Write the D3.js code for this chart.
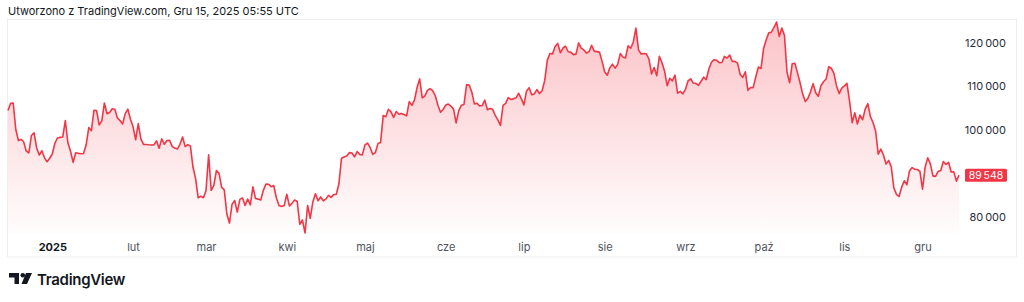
<!DOCTYPE html>
<html>
<head>
<meta charset="utf-8">
<script src="https://cdn.jsdelivr.net/npm/d3@7"></script>
<style>
  html, body { margin: 0; padding: 0; background: #fff; }
  svg { display: block; font-family: Inter, "Noto Sans", sans-serif; }
</style>
</head>
<body>
<div id="chart"></div>
<script>
// daily closes, 15 Dec 2024 .. 15 Dec 2025
var dec2024 = [104400,106058,106140,100041,97490,97755,97224,95104,94686,98676,99300,95795,94164,95163,93530,92643,93429];
var jan = [94419,96886,98107,98236,98314,102078,96922,95043,92484,94701,94566,94488,94516,96534,100504,99756,104462,104408,101089,102016,106146,103653,103960,104819,104714,102682,102087,101332,103703,104735,102405];
var feb = [100655,97688,101406,97871,96616,96593,96529,96482,96500,97437,95747,97885,96623,97508,97581,96175,95773,95539,96635,98333,96125,96577,96273,91418,88736,84347,84704,84373];
var mar = [86031,94248,86065,87222,90623,89961,86742,86154,80601,78532,82862,83722,81066,83969,84343,82579,84075,82718,86854,84167,84043,83832,86054,87499,87471,86900,87177,84353,82597,82334,82548];
var apr = [85169,82485,83102,83844,83504,78214,79235,76272,82573,79626,83404,85287,83684,84542,83669,84033,84895,84450,85063,85174,87518,93441,93699,93944,94720,94646,93754,94978,94284,94207];
var may = [96492,96910,95891,94315,94748,96802,97032,103241,102971,104696,104107,102812,104169,103539,103744,103489,103191,106446,105606,106792,109678,111673,107288,107791,109035,109440,108994,107802,105642,103999,104638];
var jun = [105652,105882,105432,104731,101575,104390,105615,105794,110295,110257,108686,105929,106090,105472,105552,106797,104601,104884,104684,103310,102257,100987,105578,106045,107361,106960,107088,107327,108386,107135];
var jul = [105698,108859,109647,108034,108231,109232,108300,108950,111327,115988,117516,117436,119117,119841,117678,118780,119177,117924,117840,117265,117380,119954,118756,118340,117614,117919,119416,118062,117950,117840,115758];
var aug = [113320,112527,114218,115071,114141,115028,117496,116688,116500,119306,118731,120172,123344,118360,117398,117491,117453,116252,112831,114274,112419,116874,115374,113458,110124,111802,111222,112545,108410,108808,108236];
var sep = [109250,111200,111705,110730,110659,110187,111144,112071,111530,113955,115507,116101,115950,115408,115444,116843,116468,117137,115688,115721,115306,112749,112014,113328,109049,109712,109681,112123,114400,114056];
var oct = [118648,120681,122266,122425,123514,124753,121451,123354,121706,113214,110807,115169,115271,113118,110783,108186,106468,107198,108666,110588,108476,107688,110069,111033,111641,114472,114120,112956,110055,108305,109556];
var nov = [110064,110639,106547,101591,103892,101301,103372,102282,104719,105996,102997,101663,99697,94397,95549,94177,92093,92949,91465,86631,85090,84648,86805,88270,87341,90518,91285,90919,90851,90394];
var dec = [86321,91350,93527,92141,89387,89272,90405,90640,92691,92020,92511,90270,90298,88175,89548];

var monthLabels = ["2025","lut","mar","kwi","maj","cze","lip","sie","wrz","paź","lis","gru"];
var priceTicks = [80000, 90000, 100000, 110000, 120000];

var startDate = new Date(2024, 11, 15);
var closes = [].concat(dec2024, jan, feb, mar, apr, may, jun, jul, aug, sep, oct, nov, dec);
var data = closes.map(function (v, i) {
    return { date: d3.timeDay.offset(startDate, i), value: v };
});
var last = data[data.length - 1];

var width = 1024,
    height = 302,
    red = "#F23645";

var svg = d3.select("#chart").append("svg")
    .attr("width", width)
    .attr("height", height);

var x = d3.scaleTime()
    .domain([startDate, last.date])
    .range([8, 959]);
var y = d3.scaleLinear()
    .domain([80000, 120000])
    .range([216.7, 42.7]);

var paneTop = 19.5, paneBottom = 234;

var fmt = function (v) { return d3.format(",")(v).replace(/,/g, "\u202F"); };

// header
svg.append("text")
    .attr("x", 8).attr("y", 15)
    .attr("font-size", 11).attr("fill", "#131722")
    .text("Utworzono z TradingView.com, Gru 15, 2025 05:55 UTC");

// frame
svg.append("rect")
    .attr("x", 7.5).attr("y", paneTop)
    .attr("width", 1009).attr("height", 257 - paneTop)
    .attr("fill", "none").attr("stroke", "#eceef2");

var grad = svg.append("defs").append("linearGradient")
    .attr("id", "fillGrad")
    .attr("gradientUnits", "userSpaceOnUse")
    .attr("x1", 0).attr("x2", 0)
    .attr("y1", paneTop).attr("y2", paneBottom);
grad.append("stop").attr("offset", "0%").attr("stop-color", red).attr("stop-opacity", 0.3);
grad.append("stop").attr("offset", "100%").attr("stop-color", red).attr("stop-opacity", 0.01);

var area = d3.area()
    .x(function (d) { return x(d.date); })
    .y0(paneBottom)
    .y1(function (d) { return y(d.value); });

var line = d3.line()
    .x(function (d) { return x(d.date); })
    .y(function (d) { return y(d.value); });

svg.append("path")
    .datum(data)
    .attr("fill", "url(#fillGrad)")
    .attr("d", area);

svg.append("path")
    .datum(data)
    .attr("fill", "none")
    .attr("stroke", red)
    .attr("stroke-width", 1.6)
    .attr("stroke-linejoin", "round")
    .attr("d", line);

// price axis (right)
var yAxis = d3.axisRight(y)
    .tickValues(priceTicks.filter(function (t) { return Math.abs(y(t) - y(last.value)) > 14; }))
    .tickSize(0)
    .tickFormat(fmt);

var yG = svg.append("g")
    .attr("transform", "translate(1006,0)")
    .call(yAxis);
yG.select(".domain").remove();
yG.selectAll("text")
    .attr("x", 0)
    .attr("text-anchor", "end")
    .attr("font-family", "Inter, 'Noto Sans', sans-serif")
    .attr("font-size", 11)
    .attr("fill", "#2a2e39");

// last price label
var lp = svg.append("g").attr("transform", "translate(0," + y(last.value) + ")");
lp.append("rect")
    .attr("x", 965).attr("y", -6.5)
    .attr("width", 42).attr("height", 13)
    .attr("rx", 1.5)
    .attr("fill", red);
lp.append("text")
    .attr("x", 986).attr("y", 0)
    .attr("dy", "0.35em")
    .attr("text-anchor", "middle")
    .attr("font-size", 10.5)
    .attr("fill", "#fff")
    .text(fmt(last.value));

// time axis (bottom)
var monthStarts = d3.timeMonth.range(new Date(2025, 0, 1), new Date(2025, 11, 2));
var xAxis = d3.axisBottom(x)
    .tickValues(monthStarts)
    .tickSize(0)
    .tickFormat(function (d, i) { return monthLabels[i]; });

var xG = svg.append("g")
    .attr("transform", "translate(0,247)")
    .call(xAxis);
xG.select(".domain").remove();
xG.selectAll("text")
    .attr("y", 0)
    .attr("dy", "0.35em")
    .attr("font-family", "Inter, 'Noto Sans', sans-serif")
    .attr("font-size", 11)
    .attr("fill", "#131722")
    .attr("font-weight", function (d, i) { return i === 0 ? "bold" : null; });
xG.selectAll("text").filter(function (d, i) { return i > 0; }).attr("fill", "#50535e");

// logo
var logo = svg.append("g").attr("transform", "translate(9,273)");
logo.append("path")
    .attr("d", "M0,0 H10 V11 H5.5 V4.5 H0 Z")
    .attr("fill", "#131722");
logo.append("circle")
    .attr("cx", 13.8).attr("cy", 2.3).attr("r", 2.3)
    .attr("fill", "#131722");
logo.append("path")
    .attr("d", "M17,0 H23 L18,11 H12.5 Z")
    .attr("fill", "#131722");
svg.append("text")
    .attr("x", 37).attr("y", 284.5)
    .attr("font-size", 15)
    .attr("font-weight", 600)
    .attr("letter-spacing", "-0.3")
    .attr("fill", "#131722")
    .text("TradingView");
</script>
</body>
</html>
